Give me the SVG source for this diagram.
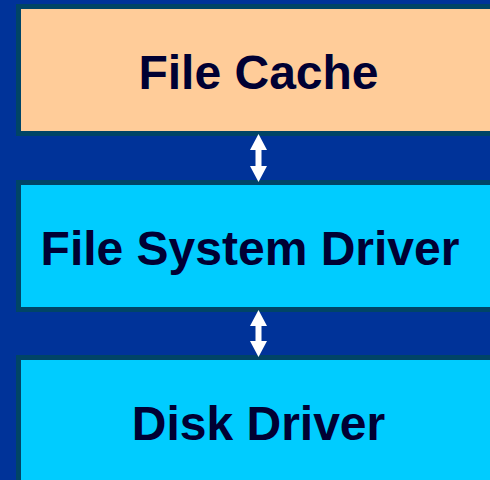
<svg xmlns="http://www.w3.org/2000/svg" width="490" height="480" viewBox="0 0 490 480">
<style>
.box{stroke:#004466;stroke-width:5}
.lbl{font-family:"Liberation Sans",Arial,sans-serif;font-weight:bold;font-size:48px;fill:#000033;text-anchor:middle}
.arr{fill:#ffffff}
</style>
<rect x="0" y="0" width="490" height="480" fill="#003399"/>
<g id="file-cache">
<rect class="box" x="18.5" y="6.5" width="480" height="127" fill="#FFCC99"/>
<text class="lbl" x="258.5" y="89">File Cache</text>
</g>
<g id="file-system-driver">
<rect class="box" x="18.5" y="182.5" width="480" height="127" fill="#00CCFF"/>
<text class="lbl" x="250" y="265">File System Driver</text>
</g>
<g id="disk-driver">
<rect class="box" x="18.5" y="357.5" width="480" height="140" fill="#00CCFF"/>
<text class="lbl" x="258.5" y="440">Disk Driver</text>
</g>
<g id="connectors">
<path class="arr" d="M258.5,134 L267,150 L261.5,150 L261.5,166 L267,166 L258.5,182 L250,166 L255.5,166 L255.5,150 L250,150 Z"/>
<path class="arr" d="M258.5,310 L267,326 L261.5,326 L261.5,341 L267,341 L258.5,357 L250,341 L255.5,341 L255.5,326 L250,326 Z"/>
</g>
</svg>
